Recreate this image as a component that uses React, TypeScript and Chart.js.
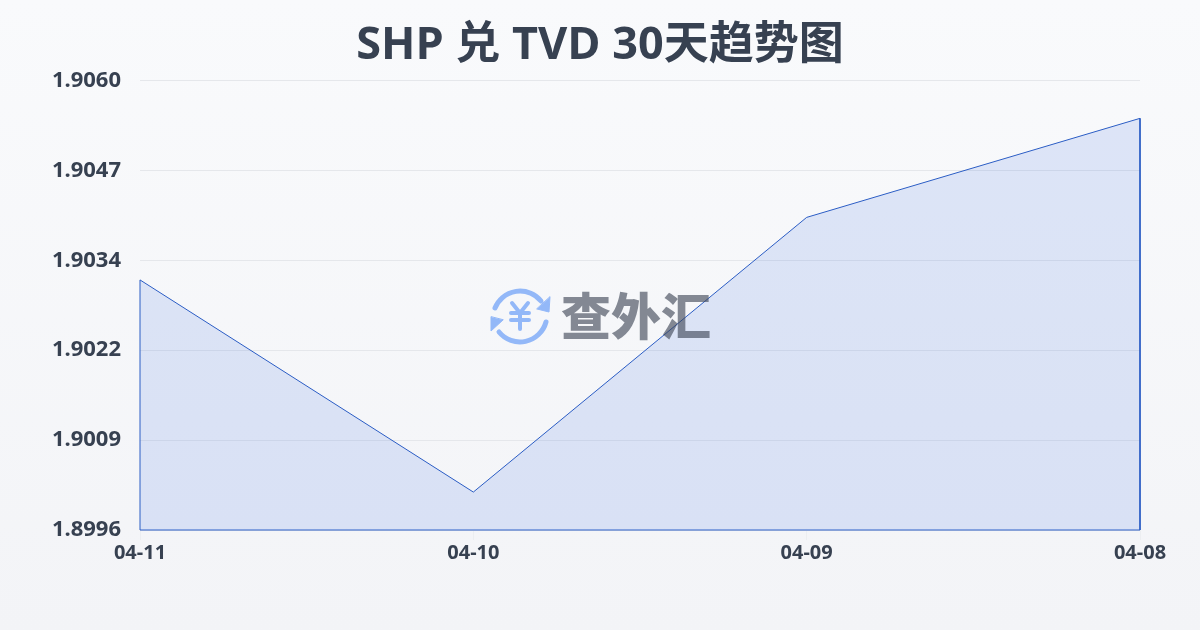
import React, { useEffect, useRef } from "react";
import { Chart, registerables } from "chart.js";

Chart.register(...registerables);

const TITLE = "SHP 兑 TVD 30天趋势图";
const dates = ["04-11", "04-10", "04-09", "04-08"];
const rates = [1.90316, 1.90014, 1.90405, 1.90546];
const yTicks = [1.8996, 1.90088, 1.90216, 1.90344, 1.90472, 1.906];
const yMin = 1.8996;
const yMax = 1.906;

const FONT = '"Noto Sans", "Noto Sans CJK SC", sans-serif';
const TITLE_FONT = '"Open Sans", "Noto Sans CJK SC", sans-serif';
const LINE = "#2a5cc4";

export default function App() {
  const canvasRef = useRef<HTMLCanvasElement | null>(null);

  useEffect(() => {
    document.body.style.margin = "0";
    if (!canvasRef.current) return;

    // outline runs down both edges, the bottom edge is its own dataset
    const area = [
      { x: 0, y: yMin },
      ...rates.map((v, i) => ({ x: i, y: v })),
      { x: rates.length - 1, y: yMin },
    ];
    const base = [
      { x: 0, y: yMin },
      { x: rates.length - 1, y: yMin },
    ];

    const chart = new Chart(canvasRef.current, {
      type: "line",
      data: {
        datasets: [
          {
            data: area,
            borderColor: LINE,
            borderWidth: 1,
            backgroundColor: "rgba(37,90,225,0.13)",
            fill: "start",
            pointRadius: 0,
            tension: 0,
            clip: false as any,
          },
          {
            data: base,
            borderColor: LINE,
            borderWidth: 1,
            fill: false,
            pointRadius: 0,
            clip: false as any,
          },
        ],
      },
      options: {
        responsive: false,
        animation: false,
        plugins: {
          legend: { display: false },
          tooltip: { enabled: false },
          title: {
            display: true,
            text: TITLE,
            color: "#374151",
            font: { size: 45, weight: "bold", family: TITLE_FONT, lineHeight: 1.2 },
            padding: { top: 19, bottom: 7.4 },
          },
        },
        scales: {
          x: {
            type: "linear",
            min: 0,
            max: dates.length - 1,
            afterBuildTicks: (axis: any) => {
              axis.ticks = dates.map((_, i) => ({ value: i }));
            },
            afterFit: (axis: any) => {
              axis.height = 100;
            },
            grid: { drawOnChartArea: false, drawTicks: true, tickLength: 10, tickColor: "#eceef1" },
            border: { display: false },
            ticks: {
              autoSkip: false,
              maxRotation: 0,
              padding: 1,
              color: "#374151",
              font: { size: 20, weight: "bold", family: FONT },
              callback: (v: any) => dates[v],
            },
          },
          y: {
            min: yMin,
            max: yMax,
            afterBuildTicks: (axis: any) => {
              axis.ticks = yTicks.map((value) => ({ value }));
            },
            afterFit: (axis: any) => {
              axis.width = 140;
            },
            grid: { color: "#e5e7eb", lineWidth: 1, drawTicks: false },
            border: { display: false },
            ticks: {
              padding: 19,
              color: "#374151",
              font: { size: 22, weight: "bold", family: FONT },
              callback: (v: any) => Number(v).toFixed(4),
            },
          },
          // empty axis, only keeps the 60px gap on the right
          right: {
            position: "right",
            afterFit: (axis: any) => {
              axis.width = 60;
            },
            grid: { display: false },
            border: { display: false },
            ticks: { display: false },
          },
        },
      },
    });

    return () => chart.destroy();
  }, []);

  return (
    <div
      style={{
        position: "relative",
        width: 1200,
        height: 630,
        background: "linear-gradient(180deg, #f9fafc 0%, #f3f4f7 100%)",
      }}
    >
      <canvas ref={canvasRef} width={1200} height={630} style={{ display: "block" }} />
      {/* logo sits on top of the chart, coordinates are page px */}
      <svg
        width={62}
        height={62}
        viewBox="489 285 62 62"
        style={{ position: "absolute", left: 489, top: 285 }}
        fill="none"
        stroke="#93b8f8"
        strokeLinecap="round"
      >
        <path d="M495 308 A27 27 0 0 1 541 301" strokeWidth={5} />
        <path d="M546 322 A27 27 0 0 1 499 332" strokeWidth={5} />
        <path d="M550 297 L549 312 L537 309 Z" fill="#93b8f8" stroke="#93b8f8" strokeWidth={1} strokeLinejoin="round" />
        <path d="M491 317 L491 331 L503 320 Z" fill="#93b8f8" stroke="#93b8f8" strokeWidth={1} strokeLinejoin="round" />
        <path d="M512 303 L520 313 L528 303 M511 313 H529 M511 320 H529 M520 313 V329" strokeWidth={4} />
      </svg>
      <div
        style={{
          position: "absolute",
          left: 561,
          top: 277,
          fontFamily: '"Noto Sans CJK SC", sans-serif',
          fontWeight: 900,
          fontSize: 50,
          lineHeight: "72px",
          whiteSpace: "nowrap",
          color: "rgba(60,68,84,0.62)",
        }}
      >
        查外汇
      </div>
    </div>
  );
}
